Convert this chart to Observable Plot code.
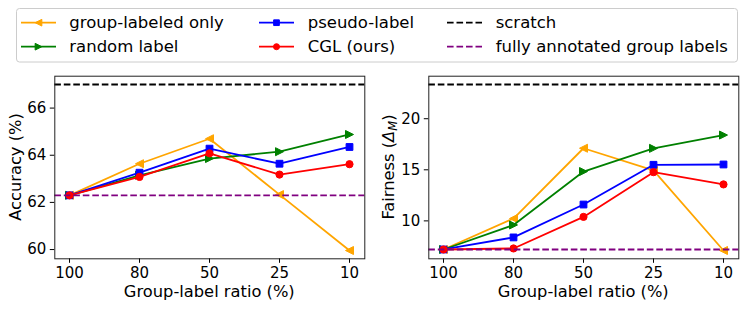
<!DOCTYPE html>
<html>
<head>
<meta charset="utf-8">
<script src="https://cdn.jsdelivr.net/npm/d3@7"></script>
<script src="https://cdn.jsdelivr.net/npm/@observablehq/plot@0.6"></script>
<style>
  html, body { margin: 0; padding: 0; background: #fff; }
  #wrap { position: relative; width: 747px; height: 309px; overflow: hidden; font-family: "DejaVu Sans", sans-serif; }
  #legend { position: absolute; left: 0; top: 0; }
  #left { position: absolute; left: 0; top: 66px; }
  #right { position: absolute; left: 373px; top: 66px; }
</style>
</head>
<body>
<div id="wrap">
  <div id="legend"></div>
  <div id="left"></div>
  <div id="right"></div>
</div>
<script>
// ---- data ----
const ratios = ["100", "80", "50", "25", "10"];
const seriesNames = ["group-labeled only", "random label", "pseudo-label", "CGL (ours)"];
const seriesColors = ["orange", "green", "blue", "red"];
const refNames = ["scratch", "fully annotated group labels"];
const refColors = ["black", "purple"];

const accGroupOnly = [62.3, 63.64, 64.70, 62.33, 59.96];
const accRandom    = [62.3, 63.15, 63.86, 64.15, 64.88];
const accPseudo    = [62.3, 63.26, 64.28, 63.64, 64.35];
const accCGL       = [62.3, 63.08, 64.08, 63.18, 63.62];
const accScratch = 67.0;
const accFull = 62.3;
const accTicks = [60, 62, 64, 66];

const fairGroupOnly = [7.2, 10.23, 17.11, 14.95, 7.1];
const fairRandom    = [7.2, 9.6, 14.83, 17.1, 18.4];
const fairPseudo    = [7.2, 8.38, 11.6, 15.49, 15.52];
const fairCGL       = [7.2, 7.3, 10.39, 14.77, 13.57];
const fairScratch = 23.35;
const fairFull = 7.2;
const fairTicks = [10, 15, 20];

// ---- marker symbols (matplotlib-like) ----
const triLeft = { draw(ctx, size) { const r = Math.sqrt(size / Math.PI); ctx.moveTo(-r, 0); ctx.lineTo(r, -r); ctx.lineTo(r, r); ctx.closePath(); } };
const triRight = { draw(ctx, size) { const r = Math.sqrt(size / Math.PI); ctx.moveTo(r, 0); ctx.lineTo(-r, -r); ctx.lineTo(-r, r); ctx.closePath(); } };
const square = { draw(ctx, size) { const r = Math.sqrt(size / Math.PI); ctx.rect(-r, -r, 2 * r, 2 * r); } };
const circle = { draw(ctx, size) { const r = Math.sqrt(size / Math.PI); ctx.moveTo(r, 0); ctx.arc(0, 0, r, 0, 2 * Math.PI); } };
const symbols = [triLeft, triRight, square, circle];
const symR = [4, 4, 3.4, 3.6];
const dash = "6.6,2.9";
const lw = 1.8;

function makeChart(series, scratch, full, ticks, width, marginLeft) {
  const all = series.flat().concat([scratch, full]);
  const lo = d3.min(all), hi = d3.max(all), pad = (hi - lo) * 0.05;
  const marks = [];
  series.forEach((vals, i) => {
    const data = ratios.map((r, j) => ({ r, v: vals[j] }));
    marks.push(Plot.line(data, { x: "r", y: "v", stroke: seriesColors[i], strokeWidth: lw }));
    marks.push(Plot.dot(data, { x: "r", y: "v", symbol: symbols[i], r: symR[i], fill: seriesColors[i], stroke: seriesColors[i], strokeWidth: 1 }));
  });
  marks.push(Plot.ruleY([scratch], { stroke: refColors[0], strokeWidth: lw, strokeDasharray: dash }));
  marks.push(Plot.ruleY([full], { stroke: refColors[1], strokeWidth: lw, strokeDasharray: dash }));
  marks.push(Plot.axisX({ tickSize: 4.5, tickPadding: 4.5, fontSize: 15, label: null }));
  marks.push(Plot.axisY({ ticks, tickSize: 4.5, tickPadding: 4, fontSize: 15, label: null }));
  marks.push(Plot.frame({ stroke: "#222", strokeWidth: 1 }));
  return Plot.plot({
    width, height: 243,
    marginTop: 9.7, marginBottom: 50.7, marginLeft, marginRight: 8.7,
    x: { type: "point", domain: ratios, padding: 0.2 },
    y: { domain: [lo - pad, hi + pad] },
    style: { fontFamily: "DejaVu Sans", fontSize: "15px", color: "black", background: "white", overflow: "visible" },
    marks
  });
}

function addLabels(svg, width, marginLeft, marginRight, ylabelParts, ylabelX) {
  const s = d3.select(svg);
  s.append("text")
    .attr("x", (marginLeft + width - marginRight) / 2)
    .attr("y", 230.7)
    .attr("text-anchor", "middle")
    .attr("font-family", "DejaVu Sans")
    .attr("font-size", 16.3)
    .attr("fill", "black")
    .text("Group-label ratio (%)");
  const t = s.append("text")
    .attr("transform", `translate(${ylabelX},101) rotate(-90)`)
    .attr("text-anchor", "middle")
    .attr("font-family", "DejaVu Sans")
    .attr("font-size", 16.3)
    .attr("fill", "black");
  ylabelParts(t);
}

const left = makeChart([accGroupOnly, accRandom, accPseudo, accCGL], accScratch, accFull, accTicks, 373, 54.3);
addLabels(left, 373, 54.3, 8.7, t => t.text("Accuracy (%)"), 21);
document.getElementById("left").appendChild(left);

const right = makeChart([fairGroupOnly, fairRandom, fairPseudo, fairCGL], fairScratch, fairFull, fairTicks, 374, 55.3);
addLabels(right, 374, 55.3, 8.7, t => {
  t.append("tspan").text("Fairness (");
  t.append("tspan").attr("font-style", "italic").text("Δ");
  t.append("tspan").attr("font-style", "italic").attr("font-size", 11.5).attr("dy", 3).text("M");
  t.append("tspan").attr("dy", -3).text(")");
}, 20.6);
document.getElementById("right").appendChild(right);

// ---- legend ----
const lg = d3.select("#legend").append("svg").attr("width", 747).attr("height", 66);
lg.append("rect").attr("x", 16.5).attr("y", 8.5).attr("width", 721).attr("height", 53.5)
  .attr("rx", 3).attr("fill", "white").attr("stroke", "#cccccc").attr("stroke-width", 1);
const entries = [
  { name: seriesNames[0], color: seriesColors[0], sym: symbols[0], r: symR[0], dashed: false },
  { name: seriesNames[1], color: seriesColors[1], sym: symbols[1], r: symR[1], dashed: false },
  { name: seriesNames[2], color: seriesColors[2], sym: symbols[2], r: symR[2], dashed: false },
  { name: seriesNames[3], color: seriesColors[3], sym: symbols[3], r: symR[3], dashed: false },
  { name: refNames[0], color: refColors[0], dashed: true },
  { name: refNames[1], color: refColors[1], dashed: true }
];
const colLine = [21, 259, 447];
const colText = [69.3, 307.7, 495.7];
const rowY = [22.7, 46.7];
entries.forEach((e, i) => {
  const c = Math.floor(i / 2), r = i % 2;
  const g = lg.append("g");
  g.append("line").attr("x1", colLine[c]).attr("x2", colLine[c] + 35)
    .attr("y1", rowY[r]).attr("y2", rowY[r])
    .attr("stroke", e.color).attr("stroke-width", lw)
    .attr("stroke-dasharray", e.dashed ? dash : null);
  if (!e.dashed) {
    g.append("path")
      .attr("d", d3.symbol(e.sym, Math.PI * e.r * e.r * 0.7)())
      .attr("transform", `translate(${colLine[c] + 17.5},${rowY[r]})`)
      .attr("fill", e.color).attr("stroke", e.color).attr("stroke-width", 1);
  }
  g.append("text").attr("x", colText[c]).attr("y", rowY[r] + 5.7)
    .attr("font-family", "DejaVu Sans").attr("font-size", 16.5).attr("fill", "black")
    .text(e.name);
});
</script>
</body>
</html>
